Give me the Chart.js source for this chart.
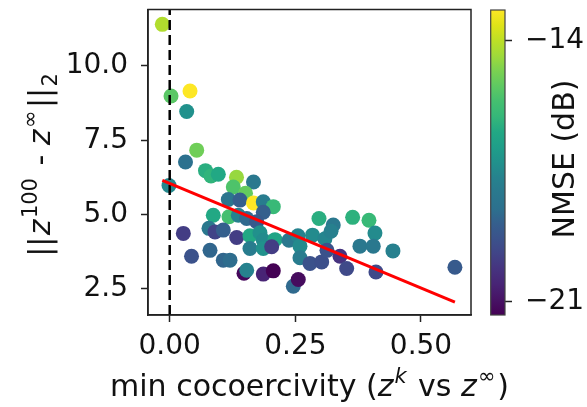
<!DOCTYPE html>
<html>
<head>
<meta charset="utf-8">
<script src="https://cdn.jsdelivr.net/npm/chart.js@4.4.0/dist/chart.umd.min.js"></script>
<style>
  html, body { margin: 0; padding: 0; background: #fff; }
  #wrap { position: relative; width: 587px; height: 407px; overflow: hidden; }
  #main { position: absolute; left: 0; top: 0; width: 587px; height: 407px; }
  #cbar { position: absolute; left: 480px; top: 0; width: 107px; height: 407px; }
</style>
</head>
<body>
<div id="wrap">
  <div id="main"><canvas id="c1" width="587" height="407"></canvas></div>
  <div id="cbar"><canvas id="c2" width="107" height="407"></canvas></div>
</div>
<script>
// ---- data: one entry per run ----
const cocoercivity = [
  -0.0147, 0.0026, 0.0404, 0.0338, 0.0537, 0.0314, -0.0014, 0.0712, 0.0822, 0.0967,
  0.1329, 0.1265, 0.1667, 0.1508, 0.1166, 0.1398, 0.1667, 0.1862, 0.2061, 0.1862,
  0.0867, 0.1180, 0.1365, 0.1532, 0.1731, 0.0782, 0.0901, 0.1066, 0.0271, 0.1333,
  0.1597, 0.1796, 0.1862, 0.2095, 0.1597, 0.1862, 0.2029, 0.0434, 0.0802, 0.1066,
  0.1200, 0.1478, 0.1532, 0.1862, 0.2061, 0.2459, 0.2558, 0.2373, 0.2552, 0.2592,
  0.2592, 0.2791, 0.3024, 0.2841, 0.2970, 0.3254, 0.3089, 0.3209, 0.3388, 0.3521,
  0.3640, 0.3965, 0.4084, 0.3785, 0.4050, 0.4442, 0.4104, 0.5675, 0.3129
];
const distance = [
  11.40, 8.99, 9.16, 8.47, 7.17, 6.77, 5.98, 6.48, 6.30, 6.36,
  6.26, 5.93, 6.10, 5.72, 5.51, 5.49, 5.39, 5.43, 5.27, 5.08,
  4.98, 4.93, 4.98, 4.87, 4.76, 4.54, 4.42, 4.48, 4.37, 4.23,
  4.29, 4.39, 4.14, 4.16, 3.86, 3.86, 3.92, 3.60, 3.80, 3.47,
  3.47, 3.03, 3.13, 3.00, 3.11, 2.59, 2.82, 4.14, 4.29, 3.94,
  3.55, 3.36, 3.41, 4.31, 4.87, 4.65, 4.19, 4.44, 3.60, 3.19,
  4.91, 4.81, 4.38, 3.94, 3.94, 3.78, 3.07, 3.23, 3.80
];
const nmseDb = [
  -14.16, -15.31, -13.18, -17.27, -14.98, -18.50, -17.52, -16.29, -16.12, -16.45,
  -14.49, -15.47, -18.09, -15.14, -18.25, -18.91, -13.18, -17.92, -15.96, -18.91,
  -16.45, -15.63, -17.68, -18.66, -19.07, -18.09, -19.72, -18.91, -19.89, -19.89,
  -16.45, -17.27, -17.43, -16.62, -17.92, -17.27, -19.89, -19.32, -18.74, -18.74,
  -18.58, -21.20, -17.68, -20.54, -21.36, -18.66, -21.11, -18.09, -17.68, -17.43,
  -17.92, -19.32, -19.40, -17.43, -16.29, -18.09, -17.60, -17.76, -20.13, -19.56,
  -16.21, -15.96, -17.43, -18.09, -18.09, -17.76, -19.56, -19.07, -19.32
];

// least-squares trend line end points
const fitX = [-0.0147, 0.5675];
const fitY = [6.15, 2.06];

// axis ranges and ticks
const xRange = [-0.0432, 0.5995];
const yRange = [1.625, 11.90];
const xTicks = [0, 0.25, 0.5];
const yTicks = [2.5, 5, 7.5, 10];
const cbarTicks = [-21, -14];
const nmseRange = [Math.min(...nmseDb), Math.max(...nmseDb)];

// ---- viridis colour map ----
const VIRIDIS = ['#440154','#471365','#482475','#46337f','#414487','#3b528b','#355f8d','#2c718e',
  '#2a788e','#26828e','#21918c','#1f9e89','#22a884','#35b779','#44bf70','#5ec962',
  '#7ad151','#9fda3a','#bddf26','#dfe318','#fde725'];
function hexToRgb(h) { return [1,3,5].map(i => parseInt(h.slice(i, i + 2), 16)); }
const VIRIDIS_RGB = VIRIDIS.map(hexToRgb);
function viridis(t) {
  t = Math.min(1, Math.max(0, t));
  const f = t * (VIRIDIS_RGB.length - 1);
  const i = Math.min(VIRIDIS_RGB.length - 2, Math.floor(f));
  const u = f - i;
  const a = VIRIDIS_RGB[i], b = VIRIDIS_RGB[i + 1];
  const c = a.map((v, k) => Math.round(v + (b[k] - v) * u));
  return `rgb(${c[0]},${c[1]},${c[2]})`;
}
const colorFor = v => viridis((v - nmseRange[0]) / (nmseRange[1] - nmseRange[0]));

const FONT = 'DejaVu Sans';
const FSIZE = 28;
const TSIZE = 30;
const INK = '#111';
const SPINE = '#222';

// draws a string made of runs (normal / italic / super / subscript), centred
function drawRich(ctx, runs, cx, cy, angle, size) {
  ctx.save();
  ctx.translate(cx, cy);
  ctx.rotate(angle);
  ctx.fillStyle = INK;
  ctx.textBaseline = 'alphabetic';
  ctx.textAlign = 'left';
  const fontOf = r => `${r.italic ? 'italic ' : ''}${Math.round(size * (r.scale || 1))}px "${FONT}"`;
  let total = 0;
  for (const r of runs) { ctx.font = fontOf(r); r.w = ctx.measureText(r.t).width + (r.gap || 0) * size; total += r.w; }
  let x = -total / 2;
  for (const r of runs) {
    ctx.font = fontOf(r);
    ctx.fillText(r.t, x + (r.pre || 0) * size, (r.dy || 0) * size);
    x += r.w;
  }
  ctx.restore();
}

const xTitle = [
  { t: 'min cocoercivity (' },
  { t: 'z', italic: true, gap: 0.04 },
  { t: 'k', italic: true, scale: 0.7, dy: -0.42, gap: 0.06 },
  { t: ' vs ' },
  { t: 'z', italic: true, gap: 0.04 },
  { t: '\u221E', scale: 0.7, dy: -0.42, gap: 0.06 },
  { t: ')' }
];
const yTitle = [
  { t: '||', gap: 0.04 },
  { t: 'z', italic: true, gap: 0.05 },
  { t: '100', scale: 0.7, dy: -0.42, gap: 0.1 },
  { t: ' - ' },
  { t: 'z', italic: true, gap: 0.05 },
  { t: '\u221E', scale: 0.7, dy: -0.42, gap: 0.08 },
  { t: '||', gap: 0.04 },
  { t: '2', scale: 0.7, dy: 0.22 }
];

const mainDecor = {
  id: 'mainDecor',
  afterDraw(chart) {
    const { ctx, chartArea: a } = chart;
    ctx.save();
    ctx.strokeStyle = SPINE;
    ctx.lineWidth = 1.5;
    ctx.strokeRect(a.left, a.top, a.right - a.left, a.bottom - a.top);
    ctx.restore();
    drawRich(ctx, xTitle, (a.left + a.right) / 2, 396, 0, TSIZE);
    drawRich(ctx, yTitle, 50, 165, -Math.PI / 2, TSIZE);
  }
};

const noEdgePadding = s => {
  s.paddingTop = 0; s.paddingBottom = 0; s.paddingLeft = 0; s.paddingRight = 0;
};

new Chart(document.getElementById('c1'), {
  type: 'scatter',
  data: {
    datasets: [
      {
        label: 'trend',
        type: 'line',
        data: fitX.map((x, i) => ({ x, y: fitY[i] })),
        borderColor: '#ff0000',
        borderWidth: 3,
        pointRadius: 0,
        fill: false,
        order: 0
      },
      {
        label: 'zero',
        type: 'line',
        data: [{ x: 0, y: yRange[0] }, { x: 0, y: yRange[1] }],
        borderColor: '#000',
        borderWidth: 2.5,
        borderDash: [10, 5],
        pointRadius: 0,
        fill: false,
        order: 1
      },
      {
        label: 'runs',
        data: cocoercivity.map((x, i) => ({ x, y: distance[i] })),
        backgroundColor: nmseDb.map(colorFor),
        borderWidth: 0,
        pointRadius: 7.5,
        pointHoverRadius: 7.5,
        order: 2
      }
    ]
  },
  options: {
    responsive: false,
    animation: false,
    events: [],
    layout: { padding: { top: 9.5, right: 116, left: 0, bottom: 0 } },
    plugins: { legend: { display: false }, tooltip: { enabled: false } },
    scales: {
      x: {
        type: 'linear',
        min: xRange[0], max: xRange[1],
        afterBuildTicks: s => { s.ticks = xTicks.map(v => ({ value: v })); },
        afterFit: s => { s.height = 92; noEdgePadding(s); },
        ticks: {
          font: { family: FONT, size: FSIZE }, color: INK, padding: 8,
          maxRotation: 0, autoSkip: false,
          callback: v => v.toFixed(2)
        },
        grid: { drawOnChartArea: false, tickLength: 7, tickWidth: 1.5, tickColor: SPINE },
        border: { display: true, color: SPINE, width: 1.5 }
      },
      y: {
        type: 'linear',
        min: yRange[0], max: yRange[1],
        afterBuildTicks: s => { s.ticks = yTicks.map(v => ({ value: v })); },
        afterFit: s => { s.width = 148; noEdgePadding(s); },
        ticks: {
          font: { family: FONT, size: FSIZE }, color: INK, padding: 13,
          autoSkip: false,
          callback: v => v.toFixed(1)
        },
        grid: { drawOnChartArea: false, tickLength: 7, tickWidth: 1.5, tickColor: SPINE },
        border: { display: true, color: SPINE, width: 1.5 }
      }
    }
  },
  plugins: [mainDecor]
});

// ---- colour bar ----
const cbarDecor = {
  id: 'cbarDecor',
  beforeDatasetsDraw(chart) {
    const { ctx, chartArea: a, scales } = chart;
    const y = scales.y;
    const yLo = y.getPixelForValue(nmseRange[0]);
    const yHi = y.getPixelForValue(nmseRange[1]);
    const g = ctx.createLinearGradient(0, yLo, 0, yHi);
    VIRIDIS.forEach((c, i) => g.addColorStop(i / (VIRIDIS.length - 1), c));
    ctx.save();
    ctx.fillStyle = g;
    ctx.fillRect(a.left, yHi, a.right - a.left, yLo - yHi);
    ctx.restore();
  },
  afterDraw(chart) {
    const { ctx, chartArea: a } = chart;
    ctx.save();
    ctx.strokeStyle = '#444';
    ctx.lineWidth = 1.2;
    ctx.strokeRect(a.left, a.top, a.right - a.left, a.bottom - a.top);
    ctx.restore();
    drawRich(ctx, [{ t: 'NMSE (dB)' }], 94, 159, -Math.PI / 2, TSIZE);
  }
};

new Chart(document.getElementById('c2'), {
  type: 'scatter',
  data: { datasets: [] },
  options: {
    responsive: false,
    animation: false,
    events: [],
    layout: { padding: { top: 10, right: 0, left: 10.7, bottom: 92 } },
    plugins: { legend: { display: false }, tooltip: { enabled: false } },
    scales: {
      x: { display: false, min: 0, max: 1 },
      y: {
        type: 'linear',
        position: 'right',
        min: nmseRange[0], max: nmseRange[1],
        afterBuildTicks: s => { s.ticks = cbarTicks.map(v => ({ value: v })); },
        afterFit: s => { s.width = 82; noEdgePadding(s); },
        ticks: {
          font: { family: FONT, size: FSIZE }, color: INK, padding: 13,
          autoSkip: false,
          callback: v => (v < 0 ? '\u2212' : '') + Math.abs(v)
        },
        grid: { drawOnChartArea: false, tickLength: 7, tickWidth: 1.5, tickColor: SPINE },
        border: { display: false }
      }
    }
  },
  plugins: [cbarDecor]
});
</script>
</body>
</html>
